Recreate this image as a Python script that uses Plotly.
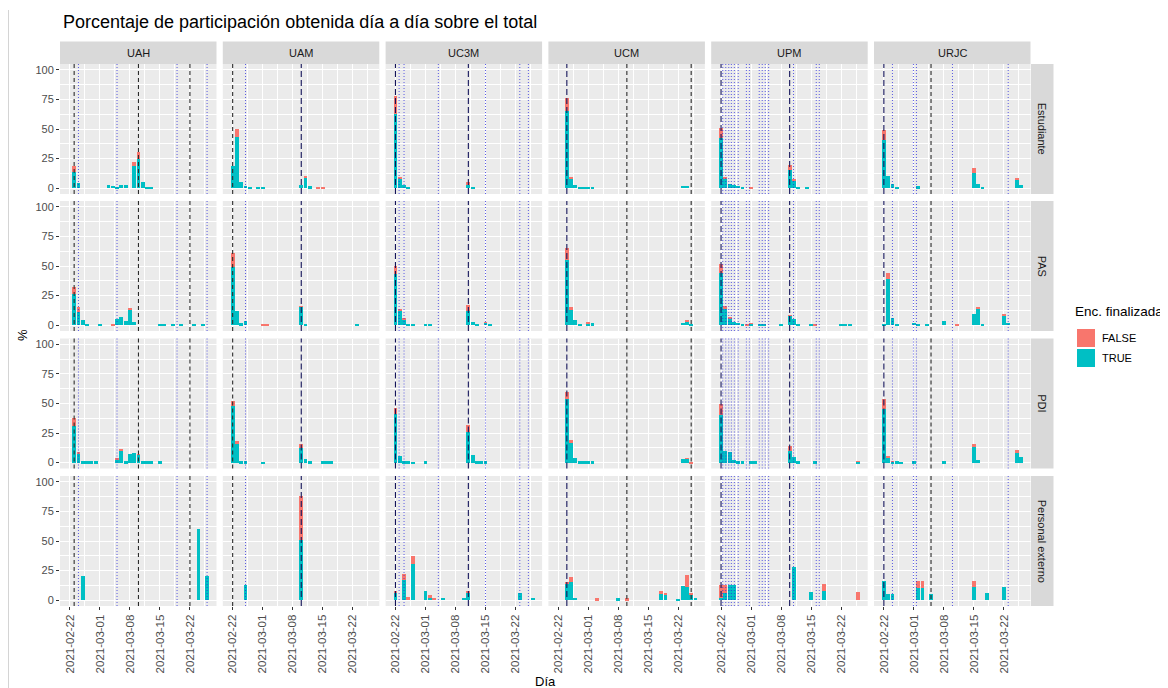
import pandas as pd
import plotly.graph_objects as go

INICIO = pd.Timestamp("2021-02-22")
universidades = ["UAH", "UAM", "UC3M", "UCM", "UPM", "URJC"]
colectivos = ["Estudiante", "PAS", "PDI", "Personal externo"]
titulo = "Porcentaje de participación obtenida día a día sobre el total"
etiquetas_x = ["2021-02-22", "2021-03-01", "2021-03-08", "2021-03-15", "2021-03-22"]
valores_y = [0, 25, 50, 75, 100]

# (día desde 2021-02-22, % TRUE, % FALSE)
UAH_Estudiante = [(1, 14, 5), (2, 4, 0), (9, 2.5, 0), (10, 2, 0), (11, 1.2, 0), (12, 2.5, 0), (13, 2.5, 0),
                  (15, 19, 3.5), (16, 25, 5.5), (17, 5, 0), (18, 1, 0), (19, 1, 0)]
UAH_PAS = [(1, 26, 6), (2, 11, 4.5), (3, 4, 0), (4, 1, 0), (7, 0.8, 0), (10, 0, 0.7), (11, 5.5, 0), (12, 7, 0),
           (13, 3.5, 0), (14, 13, 1), (15, 3, 0), (21, 0.8, 0), (22, 1, 0), (24, 0.8, 0), (26, 0.8, 0),
           (29, 0.8, 0), (31, 0.8, 0)]
UAH_PDI = [(1, 31, 7), (2, 8, 1), (3, 1, 0), (4, 1, 0), (5, 1, 0), (6, 1, 0), (11, 3, 0.5), (12, 9.5, 2),
           (13, 1, 0), (14, 7, 0), (15, 8.5, 0), (16, 7, 0.5), (17, 1, 0), (18, 1, 0), (19, 1, 0), (21, 1, 0)]
UAH_Externo = [(3, 20, 0), (30, 60, 0), (32, 20, 0)]

UAM_Estudiante = [(0, 19, 0), (1, 43, 7), (2, 5, 0), (3, 2, 0), (4, 1, 0), (6, 1, 0), (7, 1, 0), (16, 2.5, 0),
                  (17, 8.5, 2), (18, 1.5, 0), (20, 0, 0.5), (21, 0, 0.5)]
UAM_PAS = [(0, 49, 12), (1, 12, 0), (2, 1.5, 0), (3, 3.4, 0), (7, 0, 0.5), (8, 0, 0.5), (16, 15.5, 0.5),
           (17, 1, 0), (29, 0.5, 0)]
UAM_PDI = [(0, 47.5, 4.5), (1, 15.5, 3), (2, 1, 0), (3, 1, 0), (7, 0.7, 0), (16, 12.5, 3.5), (17, 3, 0),
           (18, 1, 0), (21, 1, 0), (22, 1, 0), (23, 1, 0)]
UAM_Externo = [(3, 13, 0), (16, 51, 37.5)]

UC3M_Estudiante = [(0, 63, 15), (1, 8.5, 1), (2, 3, 0), (3, 1, 0), (17, 3, 2.5), (18, 1, 0)]
UC3M_PAS = [(0, 43, 7), (1, 12.5, 1.5), (2, 5, 0.8), (3, 1, 0), (4, 1, 0), (7, 1, 0), (8, 1, 0), (17, 12, 5),
            (18, 3, 0), (19, 1, 0), (21, 2.3, 0.3), (22, 1, 0)]
UC3M_PDI = [(0, 41, 5), (1, 6, 0), (2, 1.5, 0), (3, 1, 0), (4, 0.5, 0), (7, 1, 0), (17, 25.5, 6.5),
            (18, 6.5, 0), (19, 1, 0), (20, 1, 0), (21, 1.5, 0)]
UC3M_Externo = [(0, 6, 1.5), (2, 17, 5), (3, 0, 3), (4, 30.5, 6.5), (7, 7.5, 0), (8, 2.6, 1.6), (9, 0, 2),
                (11, 2, 0), (16, 2, 0), (17, 6, 2), (29, 6, 0), (32, 2, 0)]

UCM_Estudiante = [(2, 65, 11), (3, 8, 1), (4, 2.8, 0), (5, 1, 0), (6, 1, 0), (7, 1, 0), (8, 1, 0), (29, 2, 0),
                  (30, 2, 0)]
UCM_PAS = [(2, 55, 10), (3, 13, 2), (4, 4, 0), (5, 1, 0), (7, 1.5, 0.5), (8, 1.5, 0), (29, 2, 0), (30, 3, 1.2),
           (31, 1, 0)]
UCM_PDI = [(2, 54, 6), (3, 17, 2), (4, 4, 0), (5, 1, 0), (6, 1, 0), (7, 1.5, 0), (8, 1, 0), (29, 3, 0),
           (30, 3.5, 0.5), (31, 0, 0.5)]
UCM_Externo = [(2, 14, 1.5), (3, 15, 4.5), (4, 2, 0), (9, 0, 1.5), (14, 1.5, 0), (16, 0, 1.5), (24, 5, 3),
               (25, 5, 1), (28, 1, 0), (29, 12, 0), (30, 11, 10), (31, 4, 2), (32, 2, 0)]

UPM_Estudiante = [(0, 42, 8.5), (1, 8.5, 0.5), (2, 3.5, 0), (3, 2.5, 0), (4, 2, 0), (5, 1, 0), (7, 0, 1),
                  (16, 15.5, 4), (17, 6.5, 0.5), (18, 1, 0), (20, 1, 0)]
UPM_PAS = [(0, 44, 7.5), (1, 14, 2), (2, 5.5, 1.5), (3, 2.8, 0), (4, 2, 0), (5, 1, 0), (6, 0, 1), (7, 1, 0.5),
           (9, 1, 0), (10, 1, 0), (14, 0.5, 0), (16, 8, 0.5), (17, 5.5, 0), (18, 1, 0), (21, 1, 0), (22, 0, 1),
           (28, 1, 0), (29, 1, 0), (30, 1, 0)]
UPM_PDI = [(0, 40.5, 9.5), (1, 10, 0), (2, 9, 0), (3, 2.5, 0), (4, 1.5, 0), (5, 1.5, 0), (7, 1, 0), (8, 1, 0),
           (16, 10, 4), (17, 5, 0), (18, 1, 0), (22, 1, 0), (32, 1, 0.5)]
UPM_Externo = [(0, 2, 11), (1, 6, 7), (2, 13, 0), (3, 13, 0), (17, 28, 0), (21, 7, 0), (24, 7.5, 6), (32, 0, 7)]

URJC_Estudiante = [(0, 41, 8), (1, 10, 0), (2, 3.5, 0), (3, 1, 0), (8, 1.5, 0), (21, 12.7, 4), (22, 3.4, 0),
                   (23, 0.5, 0), (31, 7, 1.5), (32, 2.8, 0)]
URJC_PAS = [(0, 1, 0), (1, 39, 5), (2, 5.7, 0), (3, 1, 0), (7, 2, 0), (8, 1, 0), (10, 1, 0), (14, 3.5, 0),
            (17, 0, 0.5), (21, 9, 0), (22, 13.5, 2), (23, 1, 0), (28, 8.5, 0.8), (29, 2, 0)]
URJC_PDI = [(0, 45.5, 8), (1, 5, 0.7), (2, 1, 0.3), (3, 1, 0), (4, 0.5, 0), (7, 1, 0), (14, 1.6, 0),
            (21, 14.3, 1.4), (22, 2.5, 0), (31, 8, 3), (32, 4.6, 0)]
URJC_Externo = [(0, 16, 0), (1, 5, 0), (2, 5, 0), (8, 10.5, 5.5), (9, 10.5, 5.5), (11, 5, 0), (21, 11, 5),
                (24, 6, 0), (28, 11, 0)]

datos = {
    "UAH": [UAH_Estudiante, UAH_PAS, UAH_PDI, UAH_Externo],
    "UAM": [UAM_Estudiante, UAM_PAS, UAM_PDI, UAM_Externo],
    "UC3M": [UC3M_Estudiante, UC3M_PAS, UC3M_PDI, UC3M_Externo],
    "UCM": [UCM_Estudiante, UCM_PAS, UCM_PDI, UCM_Externo],
    "UPM": [UPM_Estudiante, UPM_PAS, UPM_PDI, UPM_Externo],
    "URJC": [URJC_Estudiante, URJC_PAS, URJC_PDI, URJC_Externo],
}

# fechas de envío (discontinua gris), envío (discontinua azul marino) y recordatorios (punteadas)
envios_gris = {"UAH": [1, 16, 28], "UAM": [0], "UC3M": [], "UCM": [16, 31], "UPM": [], "URJC": [11]}
envios_azul = {"UAH": [], "UAM": [16], "UC3M": [0, 17], "UCM": [2], "UPM": [0, 16], "URJC": [0]}
recordatorios = {
    "UAH": [2, 11, 25, 32],
    "UAM": [3],
    "UC3M": [0.85, 2, 10, 21, 29, 31],
    "UCM": [],
    "UPM": [0.4, 1.1, 1.8, 2.4, 3.1, 4.0, 5.9, 6.6, 8.9, 9.6, 10.3, 11.1, 16.9, 22.2, 22.9],
    "URJC": [2, 6.9, 7.6, 16, 29],
}

COL_TRUE = "#00BFC4"
COL_FALSE = "#F8766D"
FONT = "Liberation Sans, Arial, sans-serif"

# The page body has an 8 px margin, so the figure is placed at (8, 8) in the window.
OFF = 8
W, H = 1160, 680
col_left = [60, 222.8, 385.6, 548.4, 711.2, 874.0]
pw = 156.5
row_top = [64, 201, 338.5, 476]
ph = 130


def px(x):
    return (x - OFF) / W


def py(y):
    return 1 - (y - OFF) / H


def fecha(d):
    return (INICIO + pd.Timedelta(days=d)).strftime("%Y-%m-%d %H:%M:%S")


x_range = [fecha(-2.3), fecha(34.2)]
DAY_MS = 86400000

fig = go.Figure()
shapes = []
annotations = []
layout_axes = {}

for r, colec in enumerate(colectivos):
    for c, uni in enumerate(universidades):
        i = r * 6 + c + 1
        s = "" if i == 1 else str(i)
        serie = datos[uni][r]
        xs = [fecha(d) for d, t, f in serie]
        ts = [t for d, t, f in serie]
        fs = [f for d, t, f in serie]
        fig.add_trace(go.Bar(x=xs, y=ts, marker=dict(color=COL_TRUE, line=dict(width=0)),
                             width=0.9 * DAY_MS, xaxis="x" + s, yaxis="y" + s, showlegend=False,
                             name="TRUE"))
        fig.add_trace(go.Bar(x=xs, y=fs, marker=dict(color=COL_FALSE, line=dict(width=0)),
                             width=0.9 * DAY_MS, xaxis="x" + s, yaxis="y" + s, showlegend=False,
                             name="FALSE"))
        bottom = r == 3
        left = c == 0
        layout_axes["xaxis" + s] = dict(
            domain=[px(col_left[c]), px(col_left[c] + pw)], range=x_range, type="date",
            anchor="y" + s, showgrid=True, gridcolor="white", gridwidth=1.1,
            tickmode="array", tickvals=etiquetas_x, ticktext=etiquetas_x,
            tickangle=-90, showticklabels=bottom, ticks="outside" if bottom else "",
            ticklen=3, tickcolor="#333333", tickwidth=1,
            tickfont=dict(size=11.5, color="#4D4D4D", family=FONT),
            minor=dict(tickvals=[fecha(d) for d in [-3.5, 3.5, 10.5, 17.5, 24.5, 31.5]],
                       showgrid=True, gridcolor="white", gridwidth=0.5, ticks=""),
            zeroline=False, showline=False, fixedrange=True)
        layout_axes["yaxis" + s] = dict(
            domain=[py(row_top[r] + ph), py(row_top[r])], range=[-5, 105],
            anchor="x" + s, showgrid=True, gridcolor="white", gridwidth=1.1,
            tickmode="array", tickvals=valores_y, showticklabels=left,
            ticks="outside" if left else "", ticklen=3, tickcolor="#333333",
            tickfont=dict(size=11, color="#4D4D4D", family=FONT),
            minor=dict(tickvals=[12.5, 37.5, 62.5, 87.5], showgrid=True, gridcolor="white",
                       gridwidth=0.5, ticks=""),
            zeroline=False, showline=False, fixedrange=True)
        for d in envios_gris[uni]:
            shapes.append(dict(type="line", xref="x" + s, yref="y" + s + " domain", x0=fecha(d), x1=fecha(d),
                               y0=0, y1=1, line=dict(color="#2B2B2B", width=1.1, dash="4px,3px")))
        for d in envios_azul[uni]:
            shapes.append(dict(type="line", xref="x" + s, yref="y" + s + " domain", x0=fecha(d), x1=fecha(d),
                               y0=0, y1=1, line=dict(color="#14145A", width=1.1, dash="6px,3px")))
        for d in recordatorios[uni]:
            shapes.append(dict(type="line", xref="x" + s, yref="y" + s + " domain", x0=fecha(d), x1=fecha(d),
                               y0=0, y1=1, line=dict(color="rgba(40,40,220,0.75)", width=1, dash="1px,2px")))

# strips
for c, uni in enumerate(universidades):
    shapes.append(dict(type="rect", xref="paper", yref="paper", x0=px(col_left[c]), x1=px(col_left[c] + pw),
                       y0=py(64), y1=py(41.5), fillcolor="#D9D9D9", line=dict(width=0), layer="below"))
    annotations.append(dict(text=uni, xref="paper", yref="paper", x=px(col_left[c] + pw / 2),
                            y=py(52.75), showarrow=False, xanchor="center", yanchor="middle",
                            font=dict(size=11, color="#1A1A1A", family=FONT)))
for r, colec in enumerate(colectivos):
    shapes.append(dict(type="rect", xref="paper", yref="paper", x0=px(1031), x1=px(1053.5),
                       y0=py(row_top[r] + ph), y1=py(row_top[r]), fillcolor="#D9D9D9",
                       line=dict(width=0), layer="below"))
    annotations.append(dict(text=colec, xref="paper", yref="paper", x=px(1042.25),
                            y=py(row_top[r] + ph / 2), showarrow=False, textangle=90,
                            xanchor="center", yanchor="middle",
                            font=dict(size=11, color="#1A1A1A", family=FONT)))

# thin border at the left of the picture
shapes.append(dict(type="line", xref="paper", yref="paper", x0=px(8.5), x1=px(8.5), y0=0, y1=py(10),
                   line=dict(color="#D4D4D4", width=1)))

# title and axis titles
annotations.append(dict(text=titulo, xref="paper", yref="paper", x=px(61), y=py(22), showarrow=False,
                        xanchor="left", yanchor="middle", font=dict(size=18, color="black", family=FONT)))
annotations.append(dict(text="%", xref="paper", yref="paper", x=px(22), y=py(335), showarrow=False,
                        textangle=-90, xanchor="center", yanchor="middle",
                        font=dict(size=13, color="black", family=FONT)))
annotations.append(dict(text="Día", xref="paper", yref="paper", x=px(545), y=py(681), showarrow=False,
                        xanchor="center", yanchor="middle", font=dict(size=13, color="black", family=FONT)))

# legend
annotations.append(dict(text="Enc. finalizada", xref="paper", yref="paper", x=px(1073), y=py(311),
                        showarrow=False, xanchor="left", yanchor="middle",
                        font=dict(size=13.5, color="black", family=FONT)))
for k, (lab, col) in enumerate([("FALSE", COL_FALSE), ("TRUE", COL_TRUE)]):
    y_top = 329 + k * 20
    shapes.append(dict(type="rect", xref="paper", yref="paper", x0=px(1077), x1=px(1095),
                       y0=py(y_top + 18), y1=py(y_top), fillcolor=col, line=dict(width=0)))
    annotations.append(dict(text=lab, xref="paper", yref="paper", x=px(1100), y=py(y_top + 9),
                            showarrow=False, xanchor="left", yanchor="middle",
                            font=dict(size=11, color="black", family=FONT)))

fig.update_layout(
    width=W, height=H, margin=dict(l=0, r=0, t=0, b=0),
    paper_bgcolor="white", plot_bgcolor="#EBEBEB",
    barmode="stack", showlegend=False,
    shapes=shapes, annotations=annotations,
    font=dict(family=FONT),
    **layout_axes,
)

fig.write_html("out.html")
